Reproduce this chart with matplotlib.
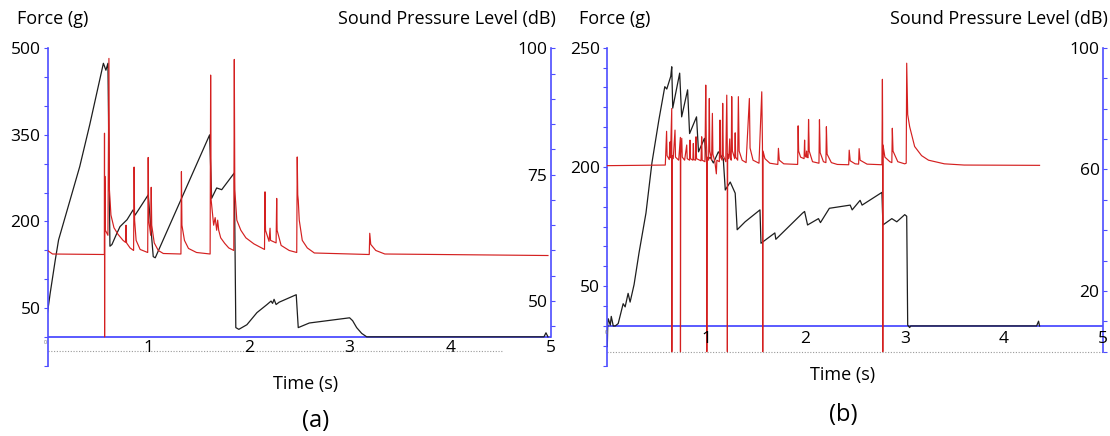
import numpy as np
import matplotlib
matplotlib.use('Agg')
import matplotlib.pyplot as plt

plt.rcParams['font.family'] = ['Open Sans', 'DejaVu Sans']

W, H = 1110, 436
BLUE = '#4d4dff'
RED = '#d42020'
BLACK = '#1e1e1e'

## panel (a) data: force (g) and sound pressure level (dB) vs time (s)
force_a = [(0.00, 42), (0.027, 76), (0.077, 133), (0.11, 168), (0.32, 295), (0.42, 368),
           (0.555, 474), (0.58, 462), (0.60, 474), (0.62, 157), (0.64, 160),
           (0.68, 176), (0.72, 191), (0.79, 203), (0.85, 220), (0.87, 211), (1.00, 246),
           (1.05, 139), (1.07, 137), (1.61, 350), (1.63, 240), (1.68, 258), (1.73, 255),
           (1.855, 284), (1.87, 16), (1.90, 13), (1.98, 21), (2.08, 42), (2.18, 56),
           (2.22, 62), (2.235, 58), (2.25, 65), (2.27, 56), (2.30, 60), (2.47, 73),
           (2.49, 16), (2.60, 24), (3.00, 33), (3.03, 28), (3.07, 16), (3.12, 6),
           (3.17, 0), (4.93, 0), (4.95, 7), (4.97, 0)]

spl_a = [(0.00, 60.0), (0.05, 59.3), (0.565, 59.2), (0.566, 83.2), (0.567, 42.9),
         (0.569, 74.7), (0.575, 64.0), (0.60, 63.0), (0.61, 98.0), (0.615, 72.0),
         (0.63, 67.0), (0.66, 64.5), (0.70, 63.2), (0.75, 62.0), (0.775, 61.6),
         (0.78, 65.0), (0.785, 61.5), (0.82, 60.5), (0.855, 60.0), (0.86, 76.5),
         (0.865, 66.0), (0.88, 62.0), (0.92, 60.2), (0.995, 59.6), (1.00, 78.4),
         (1.005, 66.0), (1.025, 63.0), (1.03, 72.5), (1.035, 65.0), (1.06, 61.5),
         (1.10, 60.0), (1.15, 59.4), (1.325, 59.3), (1.33, 75.6), (1.335, 65.0),
         (1.36, 62.0), (1.40, 60.4), (1.48, 59.6), (1.615, 59.3), (1.62, 94.7),
         (1.625, 70.0), (1.65, 65.0), (1.665, 66.5), (1.68, 64.0), (1.69, 66.0),
         (1.70, 64.0), (1.72, 62.5), (1.76, 61.4), (1.80, 60.5), (1.85, 60.0),
         (1.855, 97.8), (1.86, 72.0), (1.88, 66.0), (1.92, 64.0), (1.97, 62.5),
         (2.05, 61.3), (2.155, 60.2), (2.16, 71.6), (2.165, 64.0), (2.20, 61.8),
         (2.21, 64.4), (2.215, 62.0), (2.27, 61.5), (2.276, 70.3), (2.28, 64.0),
         (2.32, 61.0), (2.40, 60.0), (2.475, 59.6), (2.48, 78.5), (2.485, 71.0),
         (2.49, 70.0), (2.50, 66.0), (2.53, 62.0), (2.58, 60.5), (2.65, 59.5),
         (3.195, 59.2), (3.20, 63.4), (3.21, 61.2), (3.26, 60.0), (3.35, 59.3),
         (4.97, 59.0)]

## panel (b) data
force_b = [(0.00, -26), (0.005, 5), (0.01, 9), (0.03, 1), (0.04, 12), (0.06, 0), (0.08, 0),
           (0.11, 3), (0.16, 28), (0.18, 24), (0.21, 41), (0.23, 30), (0.27, 52), (0.32, 92),
           (0.39, 142), (0.45, 205), (0.52, 259), (0.58, 301), (0.60, 298), (0.64, 314),
           (0.65, 326), (0.66, 274), (0.73, 318), (0.75, 263), (0.81, 297), (0.83, 242),
           (0.90, 263), (0.92, 219), (0.98, 236), (1.00, 209), (1.04, 212), (1.07, 205),
           (1.12, 219), (1.17, 210), (1.19, 171), (1.24, 181), (1.29, 167), (1.31, 121),
           (1.39, 131), (1.54, 146), (1.55, 104), (1.69, 117), (1.70, 109), (1.97, 142),
           (1.99, 144), (2.02, 127), (2.13, 135), (2.15, 130), (2.24, 148), (2.45, 152),
           (2.47, 146), (2.55, 158), (2.57, 152), (2.77, 168), (2.78, 127), (2.87, 135),
           (2.92, 131), (3.00, 140), (3.02, 138), (3.03, 1), (3.05, -2), (3.06, 0),
           (4.33, 0), (4.35, 6), (4.36, 0)]

spl_b = [(0.00, 61.2), (0.585, 61.4), (0.598, 72.5), (0.603, 64.5), (0.625, 63.2),
         (0.632, 69.0), (0.637, 63.8), (0.650, 80.0), (0.651, 0), (0.653, 64.5),
         (0.665, 63.5), (0.683, 72.9), (0.688, 64.0), (0.72, 63.0), (0.737, 70.5),
         (0.738, 0), (0.741, 65.0), (0.751, 70.2), (0.756, 64.0), (0.78, 63.0),
         (0.801, 68.0), (0.806, 63.5), (0.83, 63.0), (0.834, 69.6), (0.839, 63.5),
         (0.863, 63.0), (0.868, 68.5), (0.873, 63.2), (0.89, 63.0), (0.895, 70.7),
         (0.90, 63.5), (0.945, 62.8), (0.952, 70.7), (0.957, 63.0), (0.985, 62.5),
         (0.993, 87.7), (0.998, 70.0), (1.003, 66.0), (1.004, 0), (1.007, 64.0),
         (1.022, 63.0), (1.029, 83.3), (1.034, 66.0), (1.052, 63.0), (1.060, 78.4),
         (1.065, 65.0), (1.085, 62.5), (1.10, 58.5), (1.105, 63.0), (1.13, 62.5),
         (1.137, 76.2), (1.142, 64.0), (1.158, 63.0), (1.164, 81.7), (1.17, 64.5),
         (1.195, 62.5), (1.205, 84.4), (1.210, 68.0), (1.211, 0), (1.214, 65.0),
         (1.225, 63.5), (1.235, 70.0), (1.24, 64.0), (1.25, 63.0), (1.255, 83.9),
         (1.262, 66.0), (1.285, 63.5), (1.29, 72.0), (1.295, 64.0), (1.315, 63.0),
         (1.322, 83.9), (1.33, 66.0), (1.36, 63.0), (1.40, 62.2), (1.433, 83.3),
         (1.44, 67.0), (1.47, 63.0), (1.53, 62.0), (1.558, 85.5), (1.565, 68.0),
         (1.568, 0), (1.571, 66.0), (1.59, 63.5), (1.64, 62.0), (1.72, 61.6),
         (1.726, 66.9), (1.735, 63.0), (1.78, 61.8), (1.92, 61.6), (1.925, 74.3),
         (1.93, 66.0), (1.95, 64.0), (1.985, 63.5), (1.99, 69.6), (1.995, 64.5),
         (2.005, 64.0), (2.01, 66.0), (2.015, 64.0), (2.025, 63.8), (2.03, 76.4),
         (2.037, 66.0), (2.07, 62.5), (2.135, 62.0), (2.14, 76.3), (2.147, 65.5),
         (2.18, 62.5), (2.205, 62.2), (2.21, 74.0), (2.217, 65.0), (2.26, 62.2),
         (2.32, 61.6), (2.435, 61.5), (2.44, 66.3), (2.45, 62.8), (2.50, 61.8),
         (2.535, 61.7), (2.54, 66.8), (2.55, 63.0), (2.62, 61.7), (2.77, 61.5),
         (2.775, 89.6), (2.777, 75.0), (2.779, 0), (2.781, 68.0), (2.80, 64.0),
         (2.85, 62.5), (2.87, 62.2), (2.875, 73.5), (2.882, 66.0), (2.93, 62.5),
         (3.00, 61.8), (3.015, 62.0), (3.02, 94.9), (3.03, 78.0), (3.05, 74.0),
         (3.10, 67.5), (3.17, 64.5), (3.24, 63.0), (3.40, 61.8), (3.60, 61.4),
         (4.36, 61.3)]

time_ticks = [1, 2, 3, 4, 5]

# axis setups: ticks, labelled ticks, limits (force and dB share the same box)
panels = [
    dict(box=(47.5, 48.3, 551, 365.7), force=force_a, spl=spl_a,
         flim=(-50, 500), fticks=np.arange(-50, 501, 50), flabels={500: '500', 350: '350', 200: '200', 50: '50'},
         dlim=(37.2, 100), dbound=(42.95, 100), dticks=np.arange(45, 101, 5), dlabels={100: '100', 75: '75', 50: '50'},
         dotted=(-23.7, 4.52), xlab_y=-19, zero_px=(45.7, 342.7),
         time_pos=(306, 384), tag='(a)', tag_pos=(316, 421),
         force_pos=17, spl_pos=556),
    dict(box=(607.3, 47.7, 1103, 365.7), force=force_b, spl=spl_b,
         flim=(-50, 350), fticks=np.arange(-50, 351, 25), flabels={350: '250', 200: '200', 50: '50'},
         dlim=(-4.6, 100), dbound=(0, 100), dticks=np.arange(0, 101, 10), dlabels={100: '100', 60: '60', 20: '20'},
         dotted=(-32.3, 5.0), xlab_y=-17, zero_px=(606, 332.7),
         time_pos=(843, 375), tag='(b)', tag_pos=(843, 415),
         force_pos=579, spl_pos=1108),
]

fig = plt.figure(figsize=(W / 100, H / 100), dpi=100)

for p in panels:
    x0, y0, x1, y1 = p['box']
    ax = fig.add_axes([x0 / W, 1 - y1 / H, (x1 - x0) / W, (y1 - y0) / H])
    ax.set_xlim(0, 5)
    ax.set_ylim(*p['flim'])
    for s in ['top', 'right', 'bottom']:
        ax.spines[s].set_visible(False)
    ax.spines['left'].set_color(BLUE)
    ax.spines['left'].set_linewidth(1.2)
    ax.set_xticks([])
    ax.set_yticks(p['fticks'], [p['flabels'].get(int(v), '') for v in p['fticks']])
    ax.tick_params(axis='y', direction='out', length=3, color=BLUE, labelsize=12.5, pad=2)

    # blue time axis and the grey dotted base line
    ax.axhline(0, color=BLUE, lw=1.3, zorder=1)
    ax.hlines(p['dotted'][0], 0, p['dotted'][1], color='#999999', lw=0.8, linestyles=(0, (1, 1.5)))

    ft, fv = zip(*p['force'])
    ax.plot(ft, fv, color=BLACK, lw=0.9, zorder=2)

    ax2 = ax.twinx()
    ax2.set_ylim(*p['dlim'])
    for s in ['top', 'left', 'bottom']:
        ax2.spines[s].set_visible(False)
    ax2.spines['right'].set_color(BLUE)
    ax2.spines['right'].set_linewidth(1.2)
    ax2.spines['right'].set_bounds(*p['dbound'])
    ax2.set_yticks(p['dticks'], [p['dlabels'].get(int(v), '') for v in p['dticks']], ha='right')
    ax2.tick_params(axis='y', direction='out', length=3, color=BLUE, labelsize=12.5, pad=-5.5)

    st, sv = zip(*p['spl'])
    ax2.plot(st, sv, color=RED, lw=0.85, zorder=3)

    # time labels drawn on top of the red trace, positioned in force units
    for t in time_ticks:
        ax2.text(t, p['xlab_y'], str(t), transform=ax.transData,
                 ha='center', va='center', fontsize=12.5, zorder=5)

    fig.text(p['zero_px'][0] / W, 1 - p['zero_px'][1] / H, '0', fontsize=4, color='#777777',
             ha='center', va='center')
    fig.text(p['force_pos'] / W, 1 - 19 / H, 'Force (g)', fontsize=13, ha='left', va='center')
    fig.text(p['spl_pos'] / W, 1 - 19 / H, 'Sound Pressure Level (dB)', fontsize=13, ha='right', va='center')
    fig.text(p['time_pos'][0] / W, 1 - p['time_pos'][1] / H, 'Time (s)', fontsize=13, ha='center', va='center')
    fig.text(p['tag_pos'][0] / W, 1 - p['tag_pos'][1] / H, p['tag'], fontsize=17, ha='center', va='center')

fig.savefig('out.png', dpi=100)
